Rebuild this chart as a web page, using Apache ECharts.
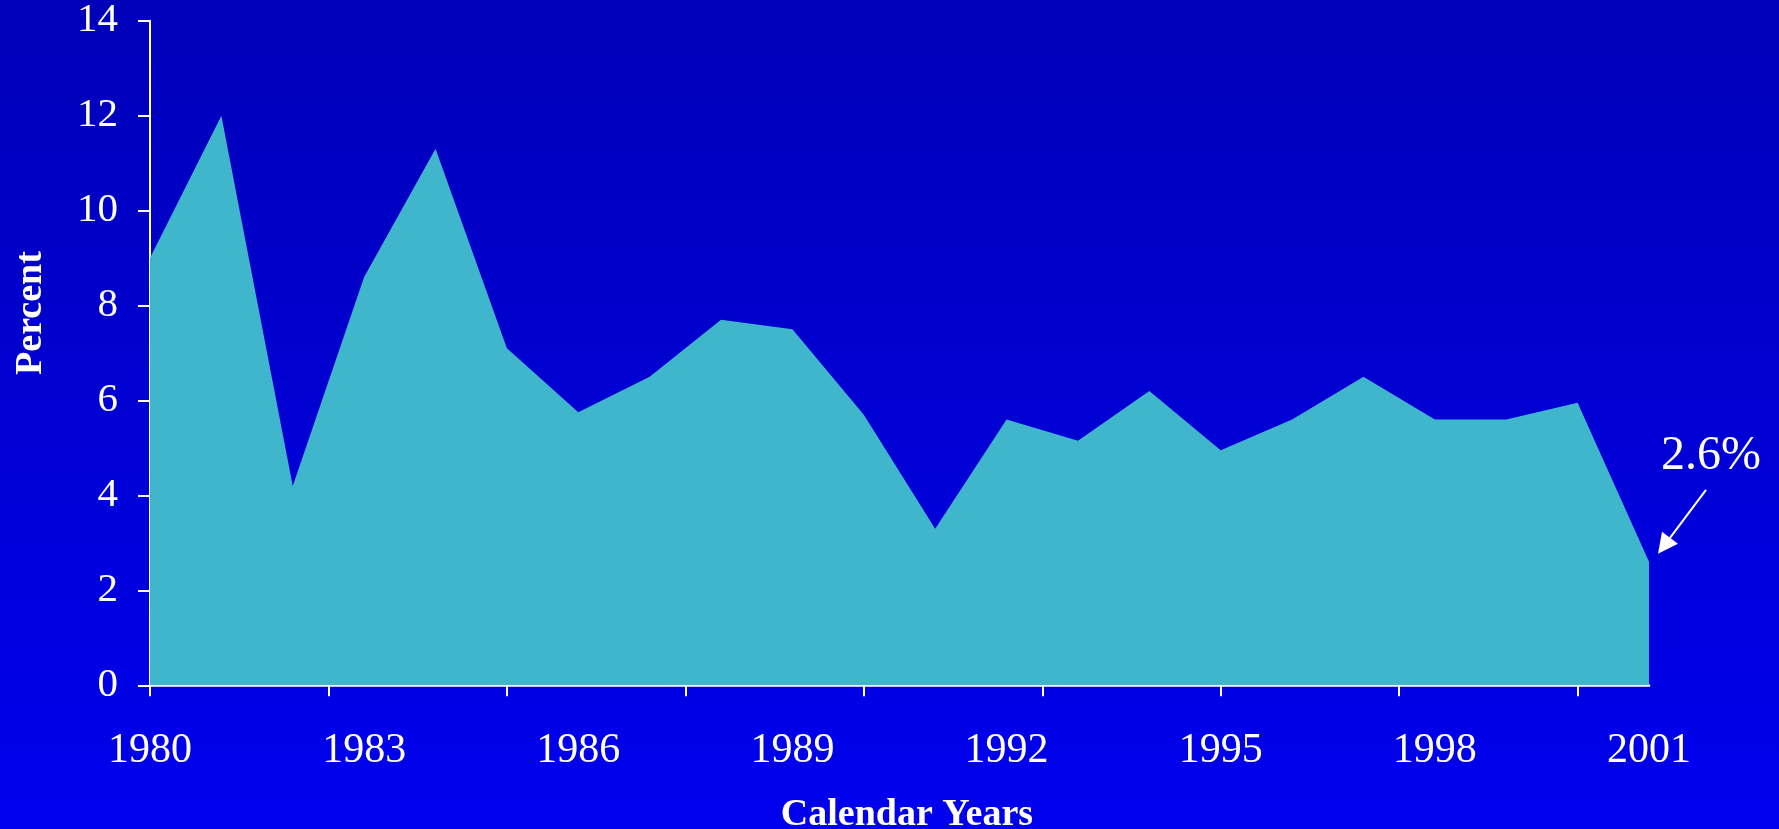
<!DOCTYPE html>
<html>
<head>
<meta charset="utf-8">
<title>Percent by calendar year</title>
<script src="https://cdn.jsdelivr.net/npm/echarts@6/dist/echarts.min.js"></script>
<style>
html, body { margin: 0; padding: 0; overflow: hidden; }
#main { width: 1779px; height: 829px; }
</style>
</head>
<body>
<div id="main"></div>
<script>
// data
var years = [1980, 1981, 1982, 1983, 1984, 1985, 1986, 1987, 1988, 1989, 1990,
             1991, 1992, 1993, 1994, 1995, 1996, 1997, 1998, 1999, 2000, 2001];
var rates = [9.0, 12.0, 4.2, 8.6, 11.3, 7.1, 5.75, 6.5, 7.7, 7.5, 5.7,
             3.3, 5.6, 5.15, 6.2, 4.95, 5.6, 6.5, 5.6, 5.6, 5.95, 2.6];
var xTickYears = [1980, 1982.5, 1985, 1987.5, 1990, 1992.5, 1995, 1997.5, 2000];
var xLabelYears = [1980, 1983, 1986, 1989, 1992, 1995, 1998, 2001];
var calloutText = '2.6%';

var serif = "'Liberation Serif', 'Times New Roman', serif";
var white = '#ffffff';

var myChart = echarts.init(document.getElementById('main'));

var points = years.map(function(y, i) { return [y, rates[i]]; });

var option = {
    backgroundColor: new echarts.graphic.LinearGradient(0, 0, 0, 1, [
        { offset: 0, color: '#0000b8' },
        { offset: 1, color: '#0000ee' }
    ]),
    animation: false,
    grid: { left: 150, right: 130, top: 20.7, bottom: 143.7, outerBoundsMode: 'none', containLabel: false },
    xAxis: {
        type: 'value',
        min: 1980,
        max: 2001,
        name: 'Calendar Years',
        nameLocation: 'middle',
        nameGap: 111,
        nameMoveOverlap: false,
        nameTextStyle: { color: white, fontFamily: serif, fontWeight: 'bold', fontSize: 38, padding: [0, 0, 0, 15] },
        axisLine: { lineStyle: { color: white, width: 2.5 } },
        axisTick: { show: true, length: 11, lineStyle: { color: white, width: 2 }, customValues: xTickYears },
        axisLabel: {
            color: white, fontFamily: serif, fontSize: 42, margin: 45,
            customValues: xLabelYears,
            formatter: function(v) { return String(v); }
        },
        splitLine: { show: false }
    },
    yAxis: {
        type: 'value',
        min: 0,
        max: 14,
        interval: 2,
        name: 'Percent',
        nameLocation: 'middle',
        nameGap: 100,
        nameMoveOverlap: false,
        nameTextStyle: { color: white, fontFamily: serif, fontWeight: 'bold', fontSize: 38, padding: [0, 0, 0, 80] },
        axisLine: { show: true, lineStyle: { color: white, width: 2 } },
        axisTick: { show: true, length: 12, lineStyle: { color: white, width: 2 } },
        axisLabel: { color: white, fontFamily: serif, fontSize: 41, margin: 32 },
        splitLine: { show: false }
    },
    series: [{
        type: 'line',
        data: points,
        showSymbol: false,
        lineStyle: { width: 0 },
        areaStyle: { color: '#40b6cc', opacity: 1 },
        z: 1
    }]
};

myChart.setOption(option);

// arrow + label pointing at the last year
var last = myChart.convertToPixel({ gridIndex: 0 }, [years[years.length - 1], rates[rates.length - 1]]);
var tip = [last[0] + 9, last[1] - 8];
var start = [last[0] + 57, last[1] - 72];
var dx = tip[0] - start[0], dy = tip[1] - start[1];
var len = Math.sqrt(dx * dx + dy * dy);
var ux = dx / len, uy = dy / len;
var headLen = 20, headHalf = 10;
var base = [tip[0] - ux * headLen, tip[1] - uy * headLen];

myChart.setOption({
    graphic: [
        {
            type: 'line',
            shape: { x1: start[0], y1: start[1], x2: base[0], y2: base[1] },
            style: { stroke: white, lineWidth: 2 }
        },
        {
            type: 'polygon',
            shape: { points: [
                tip,
                [base[0] - uy * headHalf, base[1] + ux * headHalf],
                [base[0] + uy * headHalf, base[1] - ux * headHalf]
            ] },
            style: { fill: white }
        },
        {
            type: 'text',
            x: last[0] + 62,
            y: last[1] - 105,
            style: {
                text: calloutText,
                fill: white,
                font: '48px ' + serif,
                textAlign: 'center',
                textVerticalAlign: 'middle'
            }
        }
    ]
});
</script>
</body>
</html>
